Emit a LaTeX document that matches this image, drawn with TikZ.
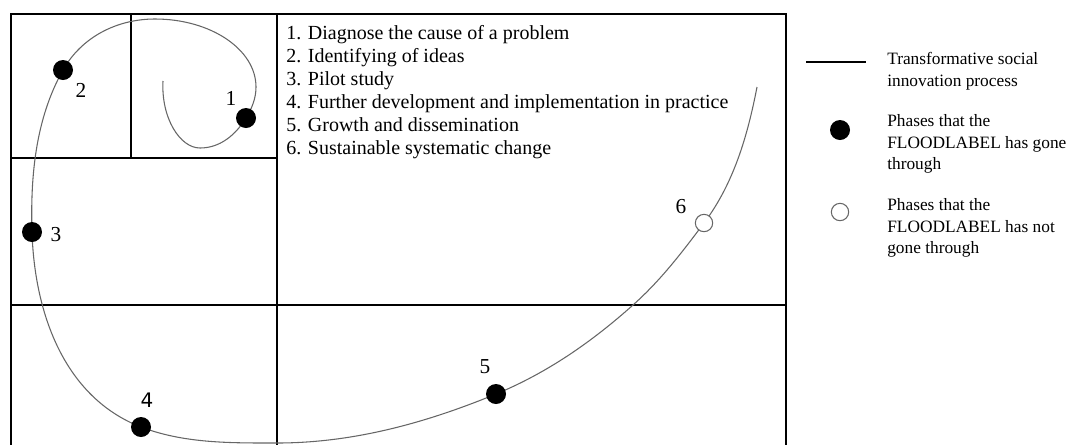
\documentclass[tikz,border=0pt]{standalone}
\usepackage{fontspec}
\setmainfont{Liberation Serif}
\newfontfamily\dejavu{DejaVu Sans}
\begin{document}
\begin{tikzpicture}[x=0.75pt,y=-0.75pt,
  frame/.style={line width=2.2pt, black},
  spiral/.style={line width=0.8pt, black!60},
  phase/.style={circle, fill=black, inner sep=0pt, minimum size=15pt},
  openphase/.style={circle, draw=black!60, fill=white, line width=0.8pt, inner sep=0pt, minimum size=13pt},
  num/.style={anchor=base, font=\fontsize{16}{19}\selectfont, inner sep=0pt},
  listtext/.style={anchor=base west, font=\fontsize{15}{18}\selectfont, inner sep=0pt},
  legtext/.style={anchor=base west, font=\fontsize{13}{16}\selectfont, inner sep=0pt},
  legline/.style={line width=0.8pt, black}]
\useasboundingbox (0,0) rectangle (1069,444);
\clip (0,0) rectangle (1069,444);
% frame grid
\draw[frame] (11,14) rectangle (786,452);
\draw[frame] (131,14) -- (131,158);
\draw[frame] (11,158) -- (277,158);
\draw[frame] (277,14) -- (277,452);
\draw[frame] (11,305) -- (786,305);
% phase positions
\coordinate (c1) at (246,118);
\coordinate (c2) at (63,70);
\coordinate (c3) at (32,232);
\coordinate (c4) at (141,427);
\coordinate (c5) at (496,394);
\coordinate (c6) at (704,223);
\coordinate (sstart) at (163,81);
\coordinate (send) at (757,87);
% spiral
\draw[spiral] (sstart)
  .. controls (161,118) and (180,148) .. (200,148)
  .. controls (220,148) and (235.6,135) .. (c1)
  .. controls (251.9,108.3) and (256,98.4) .. (256,87)
  .. controls (256,49.5) and (210.8,19) .. (155,19)
  .. controls (117,19) and (81.6,37) .. (c2)
  .. controls (35.6,118.7) and (30.3,176) .. (c3)
  .. controls (34.5,314) and (64.7,397.5) .. (c4)
  .. controls (184.3,443.5) and (230.4,443) .. (277,443)
  .. controls (353,443) and (426,422.9) .. (c5)
  .. controls (547,372.9) and (591.4,342.2) .. (633,305)
  .. controls (660.8,280.2) and (681.8,252.6) .. (c6)
  .. controls (733.8,183.3) and (747.6,135.6) .. (send);
% phases
\node[phase] (p1) at (c1) {};
\node[phase] (p2) at (c2) {};
\node[phase] (p3) at (c3) {};
\node[phase] (p4) at (c4) {};
\node[phase] (p5) at (c5) {};
\node[openphase] (p6) at (c6) {};
% numbers
\node[num] (n1) at (231,105) {1};
\node[num] (n2) at (81,97) {2};
\node[num] (n3) at (56,241) {3};
\node[num,font=\dejavu\fontsize{15}{18}\selectfont] (n4) at (147,407) {4};
\node[num] (n5) at (485,373) {5};
\node[num] (n6) at (681,213) {6};
% list
\node[listtext] (l1) at (286,39) {1. Diagnose the cause of a problem};
\node[listtext] (l2) at (286,62) {2. Identifying of ideas};
\node[listtext] (l3) at (286,85) {3. Pilot study};
\node[listtext] (l4) at (286,108) {4. Further development and implementation in practice};
\node[listtext] (l5) at (286,131) {5. Growth and dissemination};
\node[listtext] (l6) at (286,154) {6. Sustainable systematic change};
% legend
\coordinate (la) at (806,62);
\coordinate (lb) at (866,62);
\draw[legline] (la) -- (lb);
\node[legtext] (t1) at (887,64) {Transformative social};
\node[legtext] (t2) at (887,86) {innovation process};
\node[phase] (lg1) at (840,130) {};
\node[legtext] (t3) at (887,126) {Phases that the};
\node[legtext] (t4) at (887,148) {FLOODLABEL has gone};
\node[legtext] (t5) at (887,169) {through};
\node[openphase] (lg2) at (840,212) {};
\node[legtext] (t6) at (887,210) {Phases that the};
\node[legtext] (t7) at (887,232) {FLOODLABEL has not};
\node[legtext] (t8) at (887,253) {gone through};
\end{tikzpicture}
\end{document}
